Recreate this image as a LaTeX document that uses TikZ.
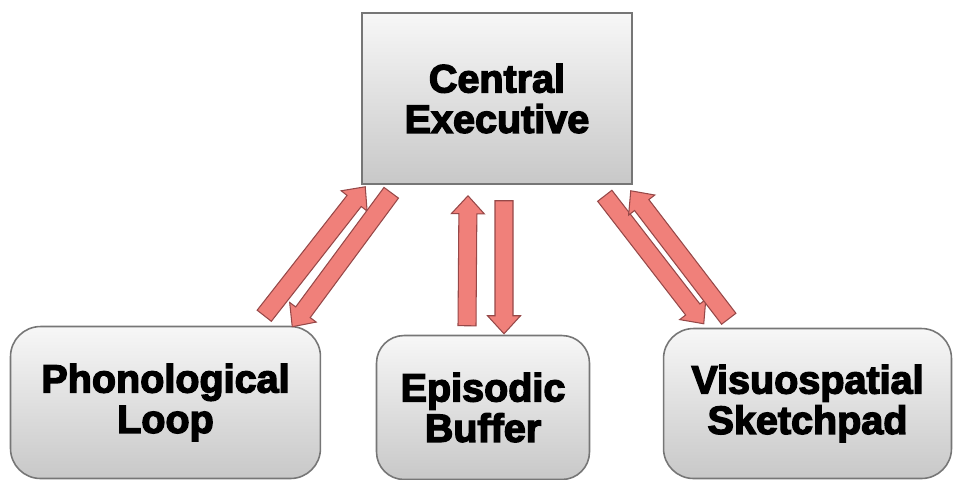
\documentclass[tikz,border=0pt]{standalone}
\usepackage{fontspec}
\newfontfamily\heavyfont{Liberation Sans}[BoldFeatures={FakeBold=3.5}]
\usetikzlibrary{positioning,calc}
\definecolor{boxrule}{RGB}{118,118,118}
\definecolor{boxtop}{RGB}{247,247,247}
\definecolor{boxbottom}{RGB}{200,200,200}
\definecolor{arrowfill}{RGB}{240,128,122}
\definecolor{arrowrule}{RGB}{150,72,72}
\tikzset{
  exec/.style={rectangle,draw=boxrule,line width=0.9pt,top color=boxtop,bottom color=boxbottom,align=center,minimum width=5.4cm,minimum height=3.42cm,font=\heavyfont\bfseries\fontsize{22.5}{23}\selectfont},
  store/.style={rectangle,rounded corners=0.6cm,draw=boxrule,line width=0.9pt,top color=boxtop,bottom color=boxbottom,align=center,minimum height=3.04cm,font=\heavyfont\bfseries\fontsize{22.5}{23}\selectfont},
  barrow/.style={fill=arrowfill,draw=arrowrule,line width=0.6pt,line join=miter}
}
% block arrow from #1 to #2
\newcommand{\blockarrow}[2]{%
  \coordinate (bh) at ($(#2)!0.36cm!(#1)$);
  \filldraw[barrow] ($(#1)!0.18cm!90:(#2)$) -- ($(bh)!0.18cm!90:(#2)$) -- ($(bh)!0.33cm!90:(#2)$) -- (#2)
    -- ($(bh)!0.33cm!-90:(#2)$) -- ($(bh)!0.18cm!-90:(#2)$) -- ($(#1)!0.18cm!-90:(#2)$) -- cycle;}

\begin{document}
\begin{tikzpicture}[x=0.02cm,y=-0.02cm]
  \useasboundingbox (0,0) rectangle (958,480);
  \node[exec] (central) at (497,98.5) {Central\\Executive};
  \node[store,minimum width=6.2cm,below left=2.82cm and 0.8cm of central] (phon) {Phonological\\Loop};
  \node[store,minimum width=4.26cm,minimum height=2.88cm,rounded corners=0.55cm,below=3.0cm of central,xshift=-0.28cm] (epi) {Episodic\\Buffer};
  \node[store,minimum width=5.76cm,minimum height=3.0cm,below right=2.86cm and 0.6cm of central] (visuo) {Visuospatial\\Sketchpad};
  % arrow ends
  \coordinate (pu-s) at ($(phon.north east)+(-57,-10)$);
  \coordinate (pu-e) at ($(central.south west)+(4,2)$);
  \coordinate (pd-s) at ($(central.south west)+(30,8)$);
  \coordinate (pd-e) at ($(phon.north east)+(-29,1)$);
  \coordinate (eu-s) at ($(epi.north)+(-16,-9)$);
  \coordinate (eu-e) at ($(central.south)+(-29,11)$);
  \coordinate (ed-s) at ($(central.south)+(7,16)$);
  \coordinate (ed-e) at ($(epi.north)+(21,-1)$);
  \coordinate (vd-s) at ($(central.south east)+(-28,11)$);
  \coordinate (vd-e) at ($(visuo.north west)+(41,-4)$);
  \coordinate (vu-s) at ($(visuo.north west)+(66,-9)$);
  \coordinate (vu-e) at ($(central.south east)+(-2,6)$);
  \blockarrow{pu-s}{pu-e}
  \blockarrow{pd-s}{pd-e}
  \blockarrow{eu-s}{eu-e}
  \blockarrow{ed-s}{ed-e}
  \blockarrow{vd-s}{vd-e}
  \blockarrow{vu-s}{vu-e}
\end{tikzpicture}
\end{document}
